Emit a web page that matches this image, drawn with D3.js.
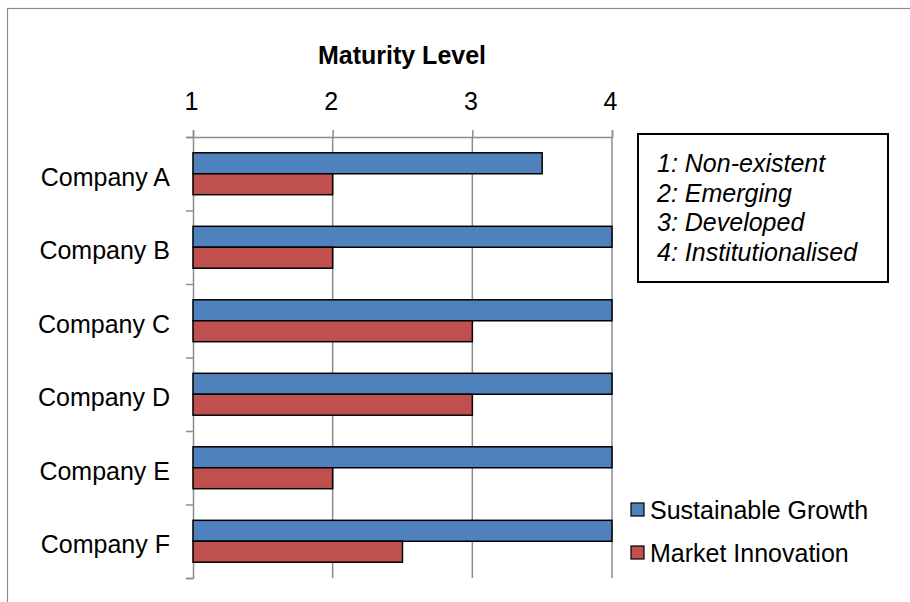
<!DOCTYPE html>
<html lang="en">
<head>
  <meta charset="UTF-8">
  <title>Maturity Level</title>
  <script src="https://d3js.org/d3.v7.min.js"></script>
  <style>
    body { margin: 0; background: #fff; }
    svg { display: block; font-family: Arial, "Liberation Sans", sans-serif; }
  </style>
</head>
<body>
  <div id="chart"></div>
  <script>
    const companies = ["Company A", "Company B", "Company C", "Company D", "Company E", "Company F"];
    const seriesNames = ["Sustainable Growth", "Market Innovation"];
    const sustainableGrowth = [3.5, 4, 4, 4, 4, 4];
    const marketInnovation = [2, 2, 3, 3, 2, 2.5];
    const levelTicks = [1, 2, 3, 4];
    const levelNotes = ["1: Non-existent", "2: Emerging", "3: Developed", "4: Institutionalised"];
    const colors = ["#4F81BD", "#C0504D"];

    const W = 910, H = 602;
    const fontSize = "25px";
    const svg = d3.select("#chart").append("svg")
      .attr("width", W).attr("height", H);

    // outer chart border (only top/left visible)
    svg.append("rect")
      .attr("x", 7.5).attr("y", 8.5)
      .attr("width", 1000).attr("height", 1000)
      .attr("fill", "none").attr("stroke", "#8c8c8c").attr("stroke-width", 1.2);

    const plot = { left: 193, right: 612, top: 137, bottom: 578 };

    const x = d3.scaleLinear().domain([1, 4]).range([plot.left, plot.right]);
    const y = d3.scaleBand().domain(companies).range([plot.top, plot.bottom])
      .paddingInner(0.43).paddingOuter(0.215);
    const ySub = d3.scaleBand().domain(seriesNames).range([0, y.bandwidth()]);
    const yEdge = d3.scaleLinear().domain([0, companies.length]).range([plot.top, plot.bottom]);

    // gridlines
    svg.append("g").selectAll("line")
      .data(levelTicks.slice(1))
      .join("line")
      .attr("x1", d => x(d)).attr("x2", d => x(d))
      .attr("y1", plot.top).attr("y2", plot.bottom)
      .attr("stroke", "#8c8c8c").attr("stroke-width", 1.5);

    // top axis
    const gx = svg.append("g")
      .attr("transform", `translate(0,${plot.top})`)
      .call(d3.axisTop(x).tickValues(levelTicks).tickSize(7).tickPadding(20).tickFormat(d3.format("d")));
    gx.select(".domain").attr("stroke", "#8c8c8c").attr("stroke-width", 1.5);
    gx.selectAll(".tick line").attr("stroke", "#8c8c8c").attr("stroke-width", 1.5);
    gx.selectAll(".tick text").attr("font-size", fontSize).attr("fill", "#000")
      .attr("font-family", "Arial, 'Liberation Sans', sans-serif").attr("dx", "-2");

    // left axis (category boundary ticks)
    const gy = svg.append("g")
      .attr("transform", `translate(${plot.left},0)`)
      .call(d3.axisLeft(yEdge).ticks(companies.length).tickSize(7).tickFormat(""));
    gy.select(".domain").attr("stroke", "#8c8c8c").attr("stroke-width", 1.5);
    gy.selectAll(".tick line").attr("stroke", "#8c8c8c").attr("stroke-width", 1.5);

    // category labels
    svg.append("g").selectAll("text")
      .data(companies)
      .join("text")
      .attr("x", 170)
      .attr("y", d => y(d) + y.bandwidth() / 2 + 3)
      .attr("dy", "0.35em")
      .attr("text-anchor", "end")
      .attr("font-size", fontSize)
      .text(d => d);

    // bars
    const seriesData = [sustainableGrowth, marketInnovation];
    seriesNames.forEach((name, si) => {
      svg.append("g").selectAll("rect")
        .data(companies)
        .join("rect")
        .attr("x", x(1))
        .attr("y", d => y(d) + ySub(name))
        .attr("width", (d, i) => x(seriesData[si][i]) - x(1))
        .attr("height", ySub.bandwidth())
        .attr("fill", colors[si])
        .attr("stroke", "#000").attr("stroke-width", 1.5);
    });

    // title
    svg.append("text")
      .attr("x", 402).attr("y", 64)
      .attr("text-anchor", "middle")
      .attr("font-size", fontSize).attr("font-weight", "bold")
      .text("Maturity Level");

    // level notes box
    svg.append("rect")
      .attr("x", 638).attr("y", 134).attr("width", 250).attr("height", 148)
      .attr("fill", "#fff").attr("stroke", "#000").attr("stroke-width", 2);
    svg.append("g").selectAll("text")
      .data(levelNotes)
      .join("text")
      .attr("x", 657)
      .attr("y", (d, i) => 172 + i * 29.7)
      .attr("font-size", fontSize).attr("font-style", "italic")
      .text(d => d);

    // series legend
    const lg = svg.append("g").selectAll("g")
      .data(seriesNames)
      .join("g")
      .attr("transform", (d, i) => `translate(631,${503 + i * 43})`);
    lg.append("rect")
      .attr("width", 13).attr("height", 13)
      .attr("fill", (d, i) => colors[i])
      .attr("stroke", "#000").attr("stroke-width", 1.2);
    lg.append("text")
      .attr("x", 19).attr("y", 16)
      .attr("font-size", fontSize)
      .text(d => d);
  </script>
</body>
</html>
